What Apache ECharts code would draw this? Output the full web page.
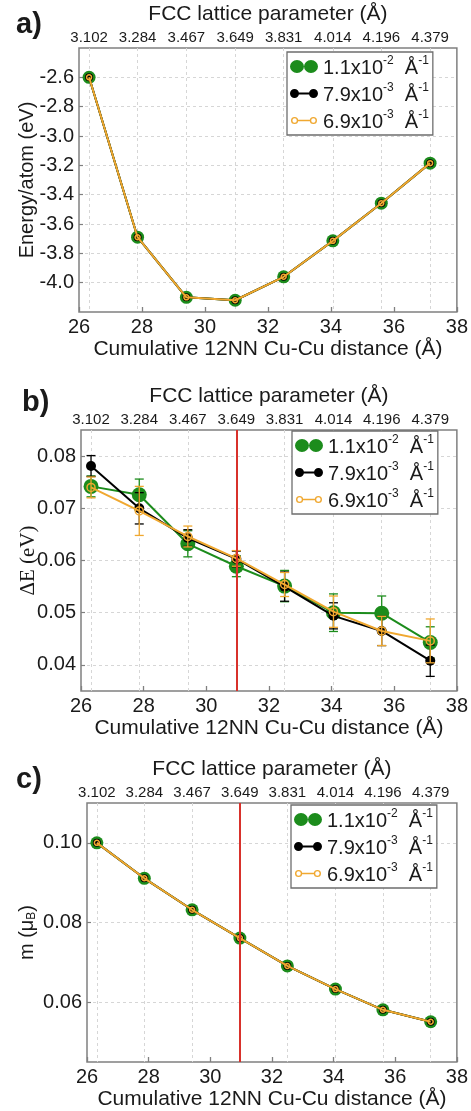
<!DOCTYPE html>
<html>
<head>
<meta charset="utf-8">
<script src="https://cdn.jsdelivr.net/npm/echarts@6/dist/echarts.min.js"></script>
<style>
  html, body { margin: 0; padding: 0; background: #fff; }
  #chart { width: 471px; height: 1111px; }
</style>
</head>
<body>
<div id="chart"></div>
<script>
// Cumulative 12-nearest-neighbour Cu-Cu distance (Å) and the matching FCC lattice parameter
const cumDist = [26.32, 27.86, 29.41, 30.96, 32.50, 34.06, 35.60, 37.15];
const latticeLabels = ['3.102', '3.284', '3.467', '3.649', '3.831', '4.014', '4.196', '4.379'];
const eqDist = 30.96; // equilibrium lattice parameter 3.649 Å

// k-point spacings shown in the legends
const seriesNames = ['1.1x10-2', '7.9x10-3', '6.9x10-3'];

// a) energy per atom (eV)
const energyG = [-2.60, -3.69, -4.10, -4.12, -3.96, -3.715, -3.458, -3.185];
const energyK = [-2.60, -3.69, -4.10, -4.12, -3.96, -3.715, -3.458, -3.185];
const energyO = [-2.60, -3.69, -4.10, -4.12, -3.96, -3.715, -3.458, -3.185];

// b) ΔE (eV) with uncertainties
const dEG = [0.0742, 0.0726, 0.0632, 0.0589, 0.0551, 0.0500, 0.0499, 0.0443];
const dEK = [0.0781, 0.0700, 0.0643, 0.0603, 0.0550, 0.0494, 0.0465, 0.0408];
const dEO = [0.0740, 0.0695, 0.0646, 0.0604, 0.0554, 0.0502, 0.0465, 0.0446];
const dEErrG = [0.0020, 0.0030, 0.0025, 0.0020, 0.0030, 0.0036, 0.0033, 0.0030];
const dEErrK = [0.0020, 0.0030, 0.0016, 0.0015, 0.0028, 0.0025, 0.0028, 0.0030];
const dEErrO = [0.0020, 0.0047, 0.0020, 0.0015, 0.0023, 0.0030, 0.0028, 0.0042];

// c) magnetic moment (μB)
const momG = [0.1000, 0.0911, 0.0832, 0.0761, 0.0691, 0.0633, 0.0581, 0.0551];
const momK = [0.1000, 0.0911, 0.0832, 0.0761, 0.0691, 0.0633, 0.0581, 0.0551];
const momO = [0.1000, 0.0911, 0.0832, 0.0761, 0.0691, 0.0633, 0.0581, 0.0551];

// tick values
const distTicks = [26, 28, 30, 32, 34, 36, 38];
const energyTicks = [-4.0, -3.8, -3.6, -3.4, -3.2, -3.0, -2.8, -2.6];
const dETicks = [0.04, 0.05, 0.06, 0.07, 0.08];
const momTicks = [0.06, 0.08, 0.10];

const SANS = '"Liberation Sans", Arial, Helvetica, sans-serif';
const SERIF = '"Liberation Serif", "Times New Roman", serif';
const GREEN = '#1c8c1c', BLACK = '#000000', ORANGE = '#f0a830', RED = '#d8312b';
const FRAME = '#808080', GRID = '#d6d6d6', TEXT = '#1a1a1a';

const chart = echarts.init(document.getElementById('chart'), null, { renderer: 'canvas' });

// legend glyphs: two markers joined by a line (corner points fix the box)
const ANCHORS = 'M0,0 L0.01,0 M28,13 L28.01,13 ';
const iconGreen = 'path://' + ANCHORS +
  'M0,6.5 A7,6.5 0 1,1 14,6.5 A7,6.5 0 1,1 0,6.5 Z M14,6.5 A7,6.5 0 1,1 28,6.5 A7,6.5 0 1,1 14,6.5 Z';
const iconBlack = 'path://' + ANCHORS +
  'M0,6.5 A4.5,4.5 0 1,1 9,6.5 A4.5,4.5 0 1,1 0,6.5 Z M19,6.5 A4.5,4.5 0 1,1 28,6.5 A4.5,4.5 0 1,1 19,6.5 Z M4,5.4 L24,5.4 L24,7.6 L4,7.6 Z';
const iconOrange = 'path://' + ANCHORS +
  'M1,6.5 A3.6,3.6 0 1,1 8.2,6.5 A3.6,3.6 0 1,1 1,6.5 Z M2.4,6.5 A2.2,2.2 0 1,0 6.8,6.5 A2.2,2.2 0 1,0 2.4,6.5 Z ' +
  'M19.8,6.5 A3.6,3.6 0 1,1 27,6.5 A3.6,3.6 0 1,1 19.8,6.5 Z M21.2,6.5 A2.2,2.2 0 1,0 25.6,6.5 A2.2,2.2 0 1,0 21.2,6.5 Z ' +
  'M8,5.8 L20,5.8 L20,7.2 L8,7.2 Z';

const legendText = {
  '1.1x10-2': '{b|1.1x10}{s|-2}{b|  Å}{s|-1}',
  '7.9x10-3': '{b|7.9x10}{s|-3}{b|  Å}{s|-1}',
  '6.9x10-3': '{b|6.9x10}{s|-3}{b|  Å}{s|-1}'
};

// panel layout: plot rectangles in page pixels
const panels = [
  { tag: 'a)', tagTop: 10, tagLeft: 16, left: 79, top: 48, width: 379, height: 264,
    legendLeft: 287, legendTop: 52 },
  { tag: 'b)', tagTop: 388, tagLeft: 22, left: 81, top: 430, width: 377, height: 261,
    legendLeft: 292, legendTop: 431 },
  { tag: 'c)', tagTop: 765, tagLeft: 16, left: 87, top: 803, width: 371, height: 259,
    legendLeft: 291, legendTop: 805 }
];

const yDefs = [
  { min: -4.2, max: -2.4, ticks: energyTicks, digits: 1,
    name: 'Energy/atom (eV)', nameGap: 42, nameStyle: { fontFamily: SANS, fontSize: 20 } },
  { min: 0.035, max: 0.085, ticks: dETicks, digits: 2,
    name: 'ΔE (eV)', nameGap: 42, nameStyle: { fontFamily: SERIF, fontSize: 21 } },
  { min: 0.045, max: 0.11, ticks: momTicks, digits: 2,
    name: '{n|m (μ}{sub|B}{n|)}', nameGap: 49,
    nameStyle: { fontFamily: SANS, fontSize: 20,
      rich: { n: { fontFamily: SANS, fontSize: 20, color: TEXT, lineHeight: 22 },
              sub: { fontFamily: SANS, fontSize: 12, color: TEXT, lineHeight: 10, verticalAlign: 'bottom' } } } }
];

const grids = [], xAxes = [], yAxes = [], titles = [], legends = [], series = [];

panels.forEach((p, i) => {
  grids.push({ left: p.left, top: p.top, width: p.width, height: p.height, show: true,
    borderColor: FRAME, borderWidth: 1.5, backgroundColor: 'transparent', containLabel: false });

  titles.push({ text: p.tag, left: p.tagLeft, top: p.tagTop, padding: 0,
    textStyle: { fontFamily: SANS, fontSize: 29, fontWeight: 'bold', color: TEXT } });

  // bottom axis: cumulative distance
  xAxes.push({ type: 'value', gridIndex: i, position: 'bottom', min: 26, max: 38, interval: 2,
    axisLine: { show: false },
    axisTick: { show: true, inside: true, length: 5, lineStyle: { color: FRAME, width: 1.3 } },
    axisLabel: { fontFamily: SANS, fontSize: 20, color: TEXT, margin: 5,
      customValues: distTicks, showMinLabel: true, showMaxLabel: true },
    splitLine: { show: false },
    name: 'Cumulative 12NN Cu-Cu distance (Å)', nameLocation: 'middle', nameGap: 27,
    nameMoveOverlap: false,
    nameTextStyle: { fontFamily: SANS, fontSize: 21, color: TEXT } });

  // top axis: lattice parameter at each computed point
  xAxes.push({ type: 'value', gridIndex: i, position: 'top', min: 26, max: 38,
    axisLine: { show: false },
    axisTick: { show: false, customValues: cumDist },
    axisLabel: { fontFamily: SANS, fontSize: 15, color: TEXT, margin: 3,
      customValues: cumDist,
      formatter: v => latticeLabels[cumDist.indexOf(v)] || '' },
    splitLine: { show: true, lineStyle: { color: GRID, width: 1, type: [3, 3] } },
    name: 'FCC lattice parameter (Å)', nameLocation: 'middle', nameGap: 23,
    nameMoveOverlap: false,
    nameTextStyle: { fontFamily: SANS, fontSize: 21, color: TEXT } });

  const y = yDefs[i];
  yAxes.push({ type: 'value', gridIndex: i, min: y.min, max: y.max,
    axisLine: { show: false },
    axisTick: { show: true, inside: true, length: 4, customValues: y.ticks,
      lineStyle: { color: FRAME, width: 1.2 } },
    axisLabel: { fontFamily: SANS, fontSize: 20, color: TEXT, margin: 5,
      customValues: y.ticks, formatter: v => v.toFixed(y.digits) },
    splitLine: { show: true, lineStyle: { color: GRID, width: 1, type: [3, 3] } },
    name: y.name, nameLocation: 'middle', nameGap: y.nameGap, nameMoveOverlap: false,
    nameTextStyle: Object.assign({ color: TEXT }, y.nameStyle) });

  legends.push({ orient: 'vertical', left: p.legendLeft, top: p.legendTop,
    itemWidth: 28, itemHeight: 13, itemGap: 4, itemTextGap: 5,
    padding: [3, 4, 3, 3], backgroundColor: '#ffffff',
    borderColor: '#6e6e6e', borderWidth: 1.3, selectedMode: false,
    data: [
      { name: seriesNames[0], icon: iconGreen, itemStyle: { color: GREEN, borderWidth: 0 } },
      { name: seriesNames[1], icon: iconBlack, itemStyle: { color: BLACK, borderWidth: 0 } },
      { name: seriesNames[2], icon: iconOrange, itemStyle: { color: ORANGE, borderWidth: 0 } }
    ],
    formatter: name => legendText[name],
    textStyle: { fontFamily: SANS, fontSize: 20, color: TEXT,
      rich: { b: { fontFamily: SANS, fontSize: 20, color: TEXT, lineHeight: 23, verticalAlign: 'bottom' },
              s: { fontFamily: SANS, fontSize: 12, color: TEXT, lineHeight: 12, verticalAlign: 'top' } } } });
});

function pts(vals) { return cumDist.map((x, j) => [x, vals[j]]); }

// marker sizes per panel: green, black, orange
const sizes = [[13, 8, 5], [15, 10, 8], [13, 8, 5]];
const panelData = [
  [energyG, energyK, energyO],
  [dEG, dEK, dEO],
  [momG, momK, momO]
];
const colors = [GREEN, BLACK, ORANGE];

function errorBarItem(color) {
  return function (params, api) {
    const x = api.value(0), yv = api.value(1), e = api.value(2);
    const hi = api.coord([x, yv + e]);
    const lo = api.coord([x, yv - e]);
    const w = 4.5;
    const style = { stroke: color, lineWidth: 1.3, fill: null };
    return { type: 'group', children: [
      { type: 'line', shape: { x1: hi[0], y1: hi[1], x2: lo[0], y2: lo[1] }, style: style },
      { type: 'line', shape: { x1: hi[0] - w, y1: hi[1], x2: hi[0] + w, y2: hi[1] }, style: style },
      { type: 'line', shape: { x1: lo[0] - w, y1: lo[1], x2: lo[0] + w, y2: lo[1] }, style: style }
    ] };
  };
}

const dEErrs = [dEErrG, dEErrK, dEErrO];

panelData.forEach((set, i) => {
  set.forEach((vals, k) => {
    if (i === 1) {
      series.push({ type: 'custom', xAxisIndex: 2 * i, yAxisIndex: i, z: 2 + k * 3,
        renderItem: errorBarItem(colors[k]), silent: true,
        data: cumDist.map((x, j) => [x, vals[j], dEErrs[k][j]]), encode: { x: 0, y: 1 } });
    }
    const hollow = k === 2;
    const s = { type: 'line', name: seriesNames[k], xAxisIndex: 2 * i, yAxisIndex: i,
      z: 3 + k * 3, data: pts(vals), symbol: 'circle', symbolSize: sizes[i][k], showSymbol: true,
      lineStyle: { color: colors[k], width: 2 },
      itemStyle: hollow ? { color: 'rgba(0,0,0,0)', borderColor: ORANGE, borderWidth: 1.5 }
                        : { color: colors[k], borderWidth: 0 },
      emphasis: { disabled: true } };
    if (k === 0 && i > 0) {
      // vertical marker at the equilibrium spacing, drawn above the data
      s.markLine = { silent: true, symbol: 'none', z: 30, label: { show: false },
        lineStyle: { color: RED, width: 2, type: 'solid' },
        data: [{ xAxis: eqDist }] };
    }
    series.push(s);
  });
});

chart.setOption({
  animation: false,
  backgroundColor: '#ffffff',
  title: titles,
  grid: grids,
  xAxis: xAxes,
  yAxis: yAxes,
  legend: legends,
  series: series
});
</script>
</body>
</html>
